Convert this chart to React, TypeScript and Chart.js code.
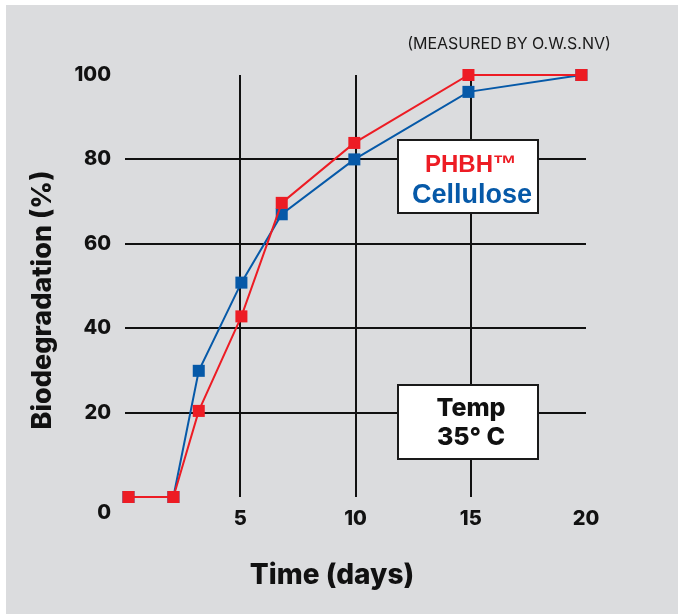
import React, { useEffect, useRef } from 'react';
import { Chart, registerables } from 'chart.js';

Chart.register(...registerables);

// Data
const days = [0.15, 2.1, 3.2, 5.05, 6.8, 9.95, 14.9, 19.8];
const phbh = [0, 0, 20.4, 42.8, 69.7, 83.9, 100, 100];
const cellulose = [0, 0, 29.9, 50.8, 67.0, 80.0, 96.0, 100];
const xTicks = [0, 5, 10, 15, 20];
const yTicks = [0, 20, 40, 60, 80, 100];

const RED = '#ED1C24';
const BLUE = '#0659A8';
const INK = '#111111';
const SANS = 'Inter, "Noto Sans", sans-serif';

export default function App() {
  const ref = useRef<HTMLCanvasElement>(null);

  useEffect(() => {
    if (!ref.current) return;

    const decor = {
      id: 'decor',
      beforeDraw(chart: any) {
        const { ctx, width, height } = chart;
        ctx.save();
        ctx.fillStyle = '#ffffff';
        ctx.fillRect(0, 0, width, height);
        ctx.fillStyle = '#DBDCDE';
        ctx.fillRect(6, 5, width - 6, height - 5);
        ctx.restore();
      },
      beforeDatasetsDraw(chart: any) {
        const { ctx } = chart;
        ctx.save();
        const box = (x1: number, y1: number, x2: number, y2: number) => {
          ctx.fillStyle = '#ffffff';
          ctx.fillRect(x1, y1, x2 - x1, y2 - y1);
          ctx.strokeStyle = '#1a1a1a';
          ctx.lineWidth = 2;
          ctx.strokeRect(x1, y1, x2 - x1, y2 - y1);
        };
        box(398, 140, 538, 213);
        box(398, 385, 538, 459);
        ctx.textAlign = 'center';
        ctx.textBaseline = 'middle';
        ctx.fillStyle = RED;
        ctx.font = 'bold 24px "Liberation Sans", Arial, sans-serif';
        ctx.fillText('PHBH™', 471, 165);
        ctx.fillStyle = BLUE;
        ctx.font = 'bold 27px "Liberation Sans", Arial, sans-serif';
        ctx.fillText('Cellulose', 472, 196);
        ctx.fillStyle = INK;
        ctx.font = `800 25px ${SANS}`;
        ctx.fillText('Temp', 471, 408);
        ctx.fillText('35° C', 471, 437);
        ctx.restore();
      },
      afterDraw(chart: any) {
        const { ctx } = chart;
        const ys = chart.scales.y;
        ctx.save();
        ctx.fillStyle = INK;
        // origin label
        ctx.font = `800 20px ${SANS}`;
        ctx.textAlign = 'right';
        ctx.textBaseline = 'middle';
        ctx.fillText('0', 111, ys.getPixelForValue(0) + 16);
        // axis titles
        ctx.textAlign = 'center';
        ctx.font = `800 28px ${SANS}`;
        ctx.fillText('Time (days)', 332, 576);
        ctx.save();
        ctx.translate(43, 300);
        ctx.rotate(-Math.PI / 2);
        ctx.font = `800 27px ${SANS}`;
        ctx.fillText('Biodegradation (%)', 0, 0);
        ctx.restore();
        // note
        ctx.font = `16px ${SANS}`;
        ctx.fillStyle = '#1a1a1a';
        ctx.fillText('(MEASURED BY O.W.S.NV)', 509, 44);
        ctx.restore();
      },
    };

    const chart = new Chart(ref.current, {
      type: 'scatter',
      data: {
        datasets: [
          {
            label: 'PHBH™',
            data: days.map((d, i) => ({ x: d, y: phbh[i] })),
            borderColor: RED,
            backgroundColor: RED,
            showLine: true,
            borderWidth: 2,
            pointStyle: 'rect',
            pointRadius: 8.5,
            pointBorderWidth: 0,
            clip: false,
            order: 0,
          },
          {
            label: 'Cellulose',
            data: days.map((d, i) => ({ x: d, y: cellulose[i] })),
            borderColor: BLUE,
            backgroundColor: BLUE,
            showLine: true,
            borderWidth: 2,
            pointStyle: 'rect',
            pointRadius: 8.5,
            pointBorderWidth: 0,
            clip: false,
            order: 1,
          },
        ],
      },
      options: {
        animation: false,
        responsive: false,
        layout: { padding: { left: 0, top: 75, right: 92, bottom: 0 } },
        plugins: { legend: { display: false }, tooltip: { enabled: false } },
        scales: {
          x: {
            type: 'linear',
            min: 0,
            max: 20,
            afterBuildTicks: (s: any) => {
              s.ticks = xTicks.map((v) => ({ value: v }));
            },
            afterFit: (s: any) => {
              s.height = 117;
            },
            border: { display: false },
            grid: {
              drawTicks: false,
              lineWidth: 2,
              color: (c: any) =>
                c.tick && (c.tick.value === 0 || c.tick.value === 20) ? 'rgba(0,0,0,0)' : INK,
            },
            ticks: {
              padding: 10,
              color: INK,
              font: { family: SANS, size: 20, weight: '800' },
              callback: (v: any) => (v === 0 ? '' : String(v)),
            },
          },
          y: {
            min: 0,
            max: 100,
            afterBuildTicks: (s: any) => {
              s.ticks = yTicks.map((v) => ({ value: v }));
            },
            afterFit: (s: any) => {
              s.width = 125;
            },
            border: { display: false },
            grid: {
              drawTicks: false,
              lineWidth: 2,
              color: (c: any) =>
                c.tick && (c.tick.value === 0 || c.tick.value === 100) ? 'rgba(0,0,0,0)' : INK,
            },
            ticks: {
              padding: 14,
              color: INK,
              font: { family: SANS, size: 20, weight: '800' },
              callback: (v: any) => (v === 0 ? '' : String(v)),
            },
          },
        },
      },
      plugins: [decor],
    } as any);

    return () => chart.destroy();
  }, []);

  return (
    <canvas
      ref={ref}
      width={678}
      height={614}
      style={{ position: 'fixed', left: 0, top: 0, width: 678, height: 614, display: 'block' }}
    />
  );
}
